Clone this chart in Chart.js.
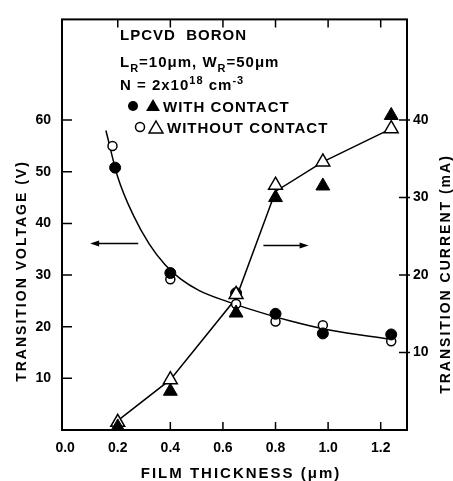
<html><head><meta charset="utf-8">
<script src="https://cdn.jsdelivr.net/npm/chart.js@4.4.0/dist/chart.umd.min.js"></script>
<style>
 body { margin:0; background:#fff; }
</style>
</head>
<body>
<canvas id="myChart" width="453" height="481"></canvas>
<script>

// measured points
var thickness = [0.2, 0.4, 0.65, 0.8, 0.98, 1.24];
var circleThickWith = [0.19, 0.4, 0.65, 0.8, 0.98, 1.24];
var circleThickWithout = [0.18, 0.4, 0.65, 0.8, 0.98, 1.24];
var voltageWith = [50.8, 30.4, 26.5, 22.5, 18.7, 18.5];
var voltageWithout = [55.0, 29.2, 24.4, 21.0, 20.3, 17.2];
var currentWith = [0.4, 5.0, 15.1, 30.0, 31.5, 40.6];
var currentWithout = [1.0, 6.5, 17.5, 31.6, 34.6, 38.9];

// hand drawn curves
var voltFitX = [0.155, 0.2, 0.26, 0.32, 0.38, 0.44, 0.51, 0.62, 0.69, 0.85, 1.01, 1.23];
var voltFitY = [58, 49, 41.5, 36, 32, 29.2, 27, 24.8, 23.6, 21.2, 19.3, 17.6];
var currFitX = [0.2, 0.4, 0.65, 0.8, 0.98, 1.24];
var currFitY = [1.2, 6.5, 17, 30.8, 34.6, 38.9];

// axes
var xTicks = [0, 0.2, 0.4, 0.6, 0.8, 1.0, 1.2];
var voltTicks = [10, 20, 30, 40, 50, 60];
var currTicks = [10, 20, 30, 40];

// arrows: [from, to, level]
var voltArrow = [0.278, 0.095, 36.1];
var currArrow = [0.754, 0.926, 23.8];

function pts(xs, ys) {
  return xs.map(function (x, i) { return {x: x, y: ys[i]}; });
}

var FONT = 'Liberation Sans';

function tri(ctx, x, y, r) {
  ctx.beginPath();
  ctx.moveTo(x, y - r);
  ctx.lineTo(x + r * 0.866, y + r / 2);
  ctx.lineTo(x - r * 0.866, y + r / 2);
  ctx.closePath();
}

function runs(ctx, x, y, parts) {
  parts.forEach(function (p) {
    var dy = 0;
    if (p.sub) { ctx.font = 'bold 11px ' + FONT; dy = 5; }
    else if (p.sup) { ctx.font = 'bold 11px ' + FONT; dy = -6; }
    else ctx.font = 'bold 15px ' + FONT;
    ctx.fillText(p.t, x, y + dy);
    x += ctx.measureText(p.t).width;
  });
}

var decor = {
  id: 'decor',
  afterDraw: function (chart) {
    var ctx = chart.ctx, a = chart.chartArea;
    var sx = chart.scales.x, sy = chart.scales.y, sy2 = chart.scales.y2;
    ctx.save();
    ctx.strokeStyle = '#000';
    ctx.fillStyle = '#000';
    ctx.lineWidth = 2;
    ctx.strokeRect(a.left, a.top, a.right - a.left, a.bottom - a.top);

    // inward tick marks
    ctx.lineWidth = 1.5;
    ctx.beginPath();
    xTicks.forEach(function (v) {
      if (v === 0) return;
      var px = sx.getPixelForValue(v);
      ctx.moveTo(px, a.bottom); ctx.lineTo(px, a.bottom - 8);
      ctx.moveTo(px, a.top); ctx.lineTo(px, a.top + 8);
    });
    voltTicks.forEach(function (v) {
      var py = sy.getPixelForValue(v);
      ctx.moveTo(a.left, py); ctx.lineTo(a.left + 10, py);
    });
    currTicks.forEach(function (v) {
      var py = sy2.getPixelForValue(v);
      ctx.moveTo(a.right + 3, py); ctx.lineTo(a.right - 8, py);
    });
    ctx.stroke();

    // arrows
    function arrow(x1, x2, py) {
      var p1 = sx.getPixelForValue(x1), p2 = sx.getPixelForValue(x2);
      var d = p2 > p1 ? 1 : -1;
      ctx.beginPath();
      ctx.moveTo(p1, py); ctx.lineTo(p2 - d * 6, py);
      ctx.stroke();
      ctx.beginPath();
      ctx.moveTo(p2, py);
      ctx.lineTo(p2 - d * 9, py - 3);
      ctx.lineTo(p2 - d * 9, py + 3);
      ctx.closePath();
      ctx.fill();
    }
    arrow(voltArrow[0], voltArrow[1], sy.getPixelForValue(voltArrow[2]));
    arrow(currArrow[0], currArrow[1], sy2.getPixelForValue(currArrow[2]));

    // annotation text
    ctx.letterSpacing = '1px';
    ctx.textAlign = 'left';
    ctx.textBaseline = 'alphabetic';
    runs(ctx, 120, 40, [{t: 'LPCVD  BORON'}]);
    runs(ctx, 120, 67, [{t: 'L'}, {t: 'R', sub: true}, {t: '=10\u03bcm, W'}, {t: 'R', sub: true}, {t: '=50\u03bcm'}]);
    runs(ctx, 120, 90, [{t: 'N = 2x10'}, {t: '18', sup: true}, {t: ' cm'}, {t: '-3', sup: true}]);
    runs(ctx, 163, 112, [{t: 'WITH CONTACT'}]);
    runs(ctx, 167, 133, [{t: 'WITHOUT CONTACT'}]);

    // legend symbols
    ctx.lineWidth = 1.5;
    ctx.beginPath(); ctx.arc(133, 106, 5, 0, Math.PI * 2); ctx.fill();
    tri(ctx, 153, 107, 8); ctx.fill();
    ctx.beginPath(); ctx.arc(140, 127, 4.5, 0, Math.PI * 2); ctx.stroke();
    tri(ctx, 156, 129, 8); ctx.stroke();

    // axis titles
    ctx.letterSpacing = '2px';
    ctx.textAlign = 'center';
    ctx.textBaseline = 'middle';
    ctx.font = 'bold 14px ' + FONT;
    ctx.save();
    ctx.translate(22, 271); ctx.rotate(-Math.PI / 2);
    ctx.fillText('TRANSITION VOLTAGE (V)', 0, 0);
    ctx.restore();
    ctx.save();
    ctx.translate(446, 274); ctx.rotate(-Math.PI / 2);
    ctx.fillText('TRANSITION CURRENT (mA)', 0, 0);
    ctx.restore();
    ctx.font = 'bold 15px ' + FONT;
    ctx.fillText('FILM THICKNESS (\u03bcm)', 241, 474);
    ctx.restore();
  }
};

var tickFont = {family: FONT, size: 14, weight: 'bold'};

var ctx = document.getElementById('myChart');
var myChart = new Chart(ctx, {
  type: 'scatter',
  data: {
    datasets: [{
      data: pts(circleThickWith, voltageWith), yAxisID: 'y', order: 2,
      pointStyle: 'circle', pointRadius: 5.5, backgroundColor: '#000', borderColor: '#000', borderWidth: 1
    }, {
      data: pts(circleThickWithout, voltageWithout), yAxisID: 'y', order: 3,
      pointStyle: 'circle', pointRadius: 4.5, backgroundColor: '#fff', borderColor: '#000', borderWidth: 1.5
    }, {
      data: pts(thickness, currentWith), yAxisID: 'y2', order: 1,
      pointStyle: 'triangle', pointRadius: 8, backgroundColor: '#000', borderColor: '#000', borderWidth: 1
    }, {
      data: pts(thickness, currentWithout), yAxisID: 'y2', order: 1,
      pointStyle: 'triangle', pointRadius: 8, backgroundColor: '#fff', borderColor: '#000', borderWidth: 1.5
    }, {
      type: 'line', data: pts(voltFitX, voltFitY), yAxisID: 'y', order: 10,
      borderColor: '#000', borderWidth: 1.5, pointRadius: 0, cubicInterpolationMode: 'monotone', fill: false
    }, {
      type: 'line', data: pts(currFitX, currFitY), yAxisID: 'y2', order: 10,
      borderColor: '#000', borderWidth: 1.5, pointRadius: 0, tension: 0, fill: false
    }]
  },
  options: {
    responsive: false,
    animation: false,
    layout: {padding: {top: 14, left: 0, right: 0, bottom: 0}},
    plugins: {legend: {display: false}, tooltip: {enabled: false}},
    scales: {
      x: {
        type: 'linear', position: 'bottom', min: -0.012, max: 1.30,
        grid: {display: false, drawTicks: false}, border: {display: false},
        ticks: {font: tickFont, color: '#000', padding: 10, maxRotation: 0,
          callback: function (v) { return v.toFixed(1); }},
        afterBuildTicks: function (s) { s.ticks = xTicks.map(function (v) { return {value: v}; }); },
        afterFit: function (s) { s.height = 51; }
      },
      y: {
        type: 'linear', position: 'left', min: 0, max: 79.5,
        grid: {display: false, drawTicks: false}, border: {display: false},
        ticks: {font: tickFont, color: '#000', padding: 11},
        afterBuildTicks: function (s) { s.ticks = voltTicks.map(function (v) { return {value: v}; }); },
        afterFit: function (s) { s.width = 62; }
      },
      y2: {
        type: 'linear', position: 'right', min: 0, max: 53,
        grid: {display: false, drawTicks: false}, border: {display: false},
        ticks: {font: tickFont, color: '#000', padding: 6},
        afterBuildTicks: function (s) { s.ticks = currTicks.map(function (v) { return {value: v}; }); },
        afterFit: function (s) { s.width = 46; }
      }
    }
  },
  plugins: [decor]
});

</script>
</body></html>
